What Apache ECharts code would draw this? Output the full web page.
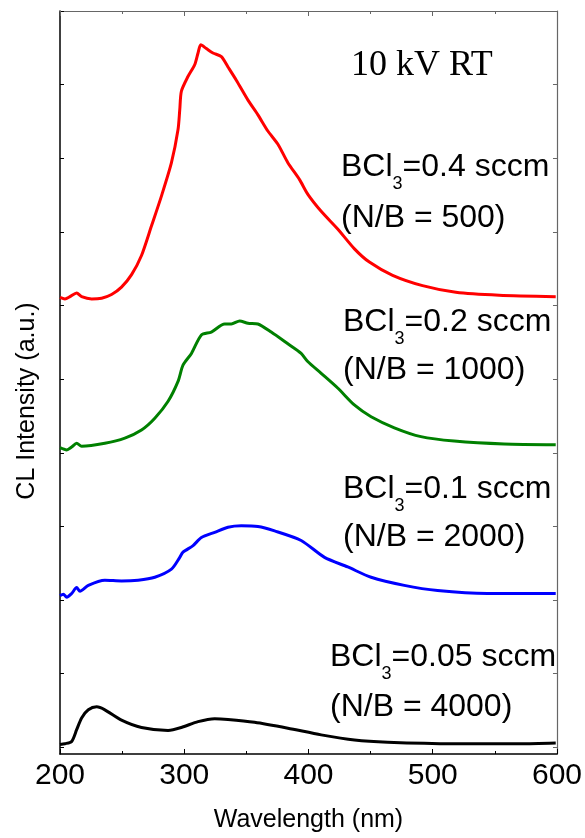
<!DOCTYPE html>
<html>
<head>
<meta charset="utf-8">
<script src="https://cdn.jsdelivr.net/npm/echarts@6/dist/echarts.min.js"></script>
<style>
html,body{margin:0;padding:0;background:#fff;}
#c{width:585px;height:838px;}
</style>
</head>
<body>
<div id="c"></div>
<script>
// Wavelength ticks (nm)
const xTicks = [200, 300, 400, 500, 600];
// Y tick positions (arbitrary units, offset-stacked spectra)
const yTicks = [0, 1, 2, 3, 4, 5, 6, 7, 8, 9, 10];

// BCl3 = 0.4 sccm (N/B = 500)
const red = [[200,6.11],[204,6.09],[208,6.12],[213.4,6.17],[217.4,6.12],[225.5,6.09],[233.5,6.10],[241.5,6.15],[249.5,6.25],[257.6,6.42],[265.6,6.68],[273.6,7.08],[281.7,7.49],[289.7,7.94],[295,8.39],[296.4,8.66],[297.7,8.91],[303,9.11],[308.4,9.27],[311.1,9.43],[313.3,9.54],[317.8,9.49],[323.1,9.43],[329.9,9.38],[335.2,9.24],[341.9,9.06],[351.3,8.79],[359.3,8.59],[367.3,8.37],[375.4,8.19],[383.4,7.94],[392.8,7.71],[399.5,7.51],[410.2,7.28],[423.5,7.04],[437,6.77],[449,6.59],[467.7,6.41],[491.8,6.27],[518.6,6.18],[553.4,6.14],[599,6.12]];
// BCl3 = 0.2 sccm (N/B = 1000)
const green = [[200,4.07],[205.4,4.04],[209.4,4.08],[213.4,4.13],[217.4,4.09],[236.1,4.13],[252.2,4.20],[265.6,4.31],[276.3,4.47],[287,4.70],[295,4.97],[299,5.19],[305.8,5.35],[313.8,5.60],[321.8,5.64],[332.5,5.75],[337.9,5.75],[344.6,5.79],[351.3,5.76],[359.3,5.75],[370,5.64],[383.4,5.48],[394.1,5.35],[399.4,5.24],[410.2,5.08],[423.5,4.88],[436.9,4.65],[450.4,4.49],[469.1,4.34],[490.5,4.22],[517.3,4.16],[557.4,4.12],[599,4.11]];
// BCl3 = 0.1 sccm (N/B = 2000)
const blue = [[200,2.06],[202.7,2.08],[205.4,2.04],[209.4,2.09],[213.4,2.17],[216.1,2.12],[222.8,2.20],[236.1,2.27],[249.5,2.26],[262.9,2.27],[276.3,2.31],[289.7,2.42],[296.4,2.58],[299,2.65],[307.1,2.74],[313.8,2.85],[324.5,2.92],[335.2,2.99],[345.9,3.01],[359.3,3.00],[372.7,2.94],[394.1,2.81],[412.9,2.58],[431.6,2.45],[450.4,2.31],[477.1,2.20],[503.9,2.13],[544,2.09],[599,2.09]];
// BCl3 = 0.05 sccm (N/B = 4000)
const black = [[200,0.04],[204,0.05],[209.4,0.08],[213.4,0.24],[217.4,0.40],[222.8,0.51],[229.5,0.55],[236.1,0.51],[249.5,0.37],[265.6,0.27],[287,0.23],[297.7,0.27],[311.1,0.35],[324.5,0.39],[335.2,0.38],[356.6,0.34],[383.4,0.26],[410.2,0.17],[437,0.10],[463.7,0.07],[517.3,0.05],[570.8,0.05],[599,0.06]];

const seriesNames = ['BCl3=0.4 sccm', 'BCl3=0.2 sccm', 'BCl3=0.1 sccm', 'BCl3=0.05 sccm'];
const seriesColors = ['#ff0000', '#008000', '#0000ff', '#000000'];
const seriesData = [red, green, blue, black];
const labelLine1 = ['0.4', '0.2', '0.1', '0.05'];
const labelLine2 = ['(N/B = 500)', '(N/B = 1000)', '(N/B = 2000)', '(N/B = 4000)'];

const SANS = 'Liberation Sans, Arial, sans-serif';
const SERIF = 'Liberation Serif, Times New Roman, serif';

const chart = echarts.init(document.getElementById('c'), null, {renderer: 'canvas'});

const labelPos = [
  {x: 341, y1: 167, y2: 218},
  {x: 343, y1: 322, y2: 370},
  {x: 343, y1: 489, y2: 537},
  {x: 330, y1: 657, y2: 707}
];

const graphics = [
  {type: 'text', x: 27, y: 401, rotation: Math.PI / 2,
   style: {text: 'CL Intensity (a.u.)', fontSize: 25, fontFamily: SANS, fill: '#000', align: 'center', verticalAlign: 'middle'}},
  {type: 'text', x: 351, y: 66,
   style: {text: '10 kV RT', fontSize: 36, fontFamily: SERIF, fill: '#000', align: 'left', verticalAlign: 'middle'}}
];
labelPos.forEach(function (p, i) {
  graphics.push({type: 'text', x: p.x, y: p.y1,
    style: {text: '{a|BCl}{s|3}{a|=' + labelLine1[i] + ' sccm}', align: 'left', verticalAlign: 'middle',
      rich: {
        a: {fontSize: 32, fontFamily: SANS, fill: '#000', verticalAlign: 'middle'},
        s: {fontSize: 18, fontFamily: SANS, fill: '#000', verticalAlign: 'middle', padding: [35, 0, 0, 0]}
      }}});
  graphics.push({type: 'text', x: p.x, y: p.y2,
    style: {text: labelLine2[i], fontSize: 32, fontFamily: SANS, fill: '#000', align: 'left', verticalAlign: 'middle'}});
});

const option = {
  animation: false,
  backgroundColor: '#fff',
  grid: {left: 60, right: 27, top: 11, bottom: 80},
  xAxis: [
    {type: 'value', min: 200, max: 600, interval: 100, position: 'bottom',
     name: 'Wavelength (nm)', nameLocation: 'middle', nameGap: 54,
     nameTextStyle: {fontSize: 25, fontFamily: SANS, color: '#000'},
     axisLine: {show: true, onZero: false, lineStyle: {color: '#000', width: 1.5}},
     axisTick: {show: true, inside: true, length: 5, lineStyle: {color: '#000', width: 1}},
     minorTick: {show: true, splitNumber: 2, length: 3, lineStyle: {color: '#000', width: 1}},
     axisLabel: {show: true, fontSize: 30, fontFamily: SANS, color: '#000', margin: 7},
     splitLine: {show: false}},
    {type: 'value', min: 200, max: 600, interval: 100, position: 'top',
     axisLine: {show: true, onZero: false, lineStyle: {color: '#666', width: 1.2}},
     axisTick: {show: true, inside: true, length: 5, lineStyle: {color: '#666', width: 1}},
     minorTick: {show: true, splitNumber: 2, length: 3, lineStyle: {color: '#666', width: 1}},
     axisLabel: {show: false}, splitLine: {show: false}}
  ],
  yAxis: [
    {type: 'value', min: -0.09, max: 10, position: 'left',
     axisLine: {show: true, onZero: false, lineStyle: {color: '#000', width: 1.5}},
     axisTick: {show: true, inside: true, length: 4, customValues: yTicks, lineStyle: {color: '#000', width: 1}},
     axisLabel: {show: false}, splitLine: {show: false}},
    {type: 'value', min: -0.09, max: 10, position: 'right',
     axisLine: {show: true, onZero: false, lineStyle: {color: '#666', width: 1.2}},
     axisTick: {show: true, inside: true, length: 4, customValues: yTicks, lineStyle: {color: '#666', width: 1}},
     axisLabel: {show: false}, splitLine: {show: false}}
  ],
  series: seriesData.map(function (d, i) {
    return {
      name: seriesNames[i], type: 'line', data: d, xAxisIndex: 0, yAxisIndex: 0,
      showSymbol: false, symbol: 'none', smooth: 0.25,
      lineStyle: {color: seriesColors[i], width: 3}, itemStyle: {color: seriesColors[i]}
    };
  }),
  graphic: graphics
};
chart.setOption(option);
</script>
</body>
</html>
